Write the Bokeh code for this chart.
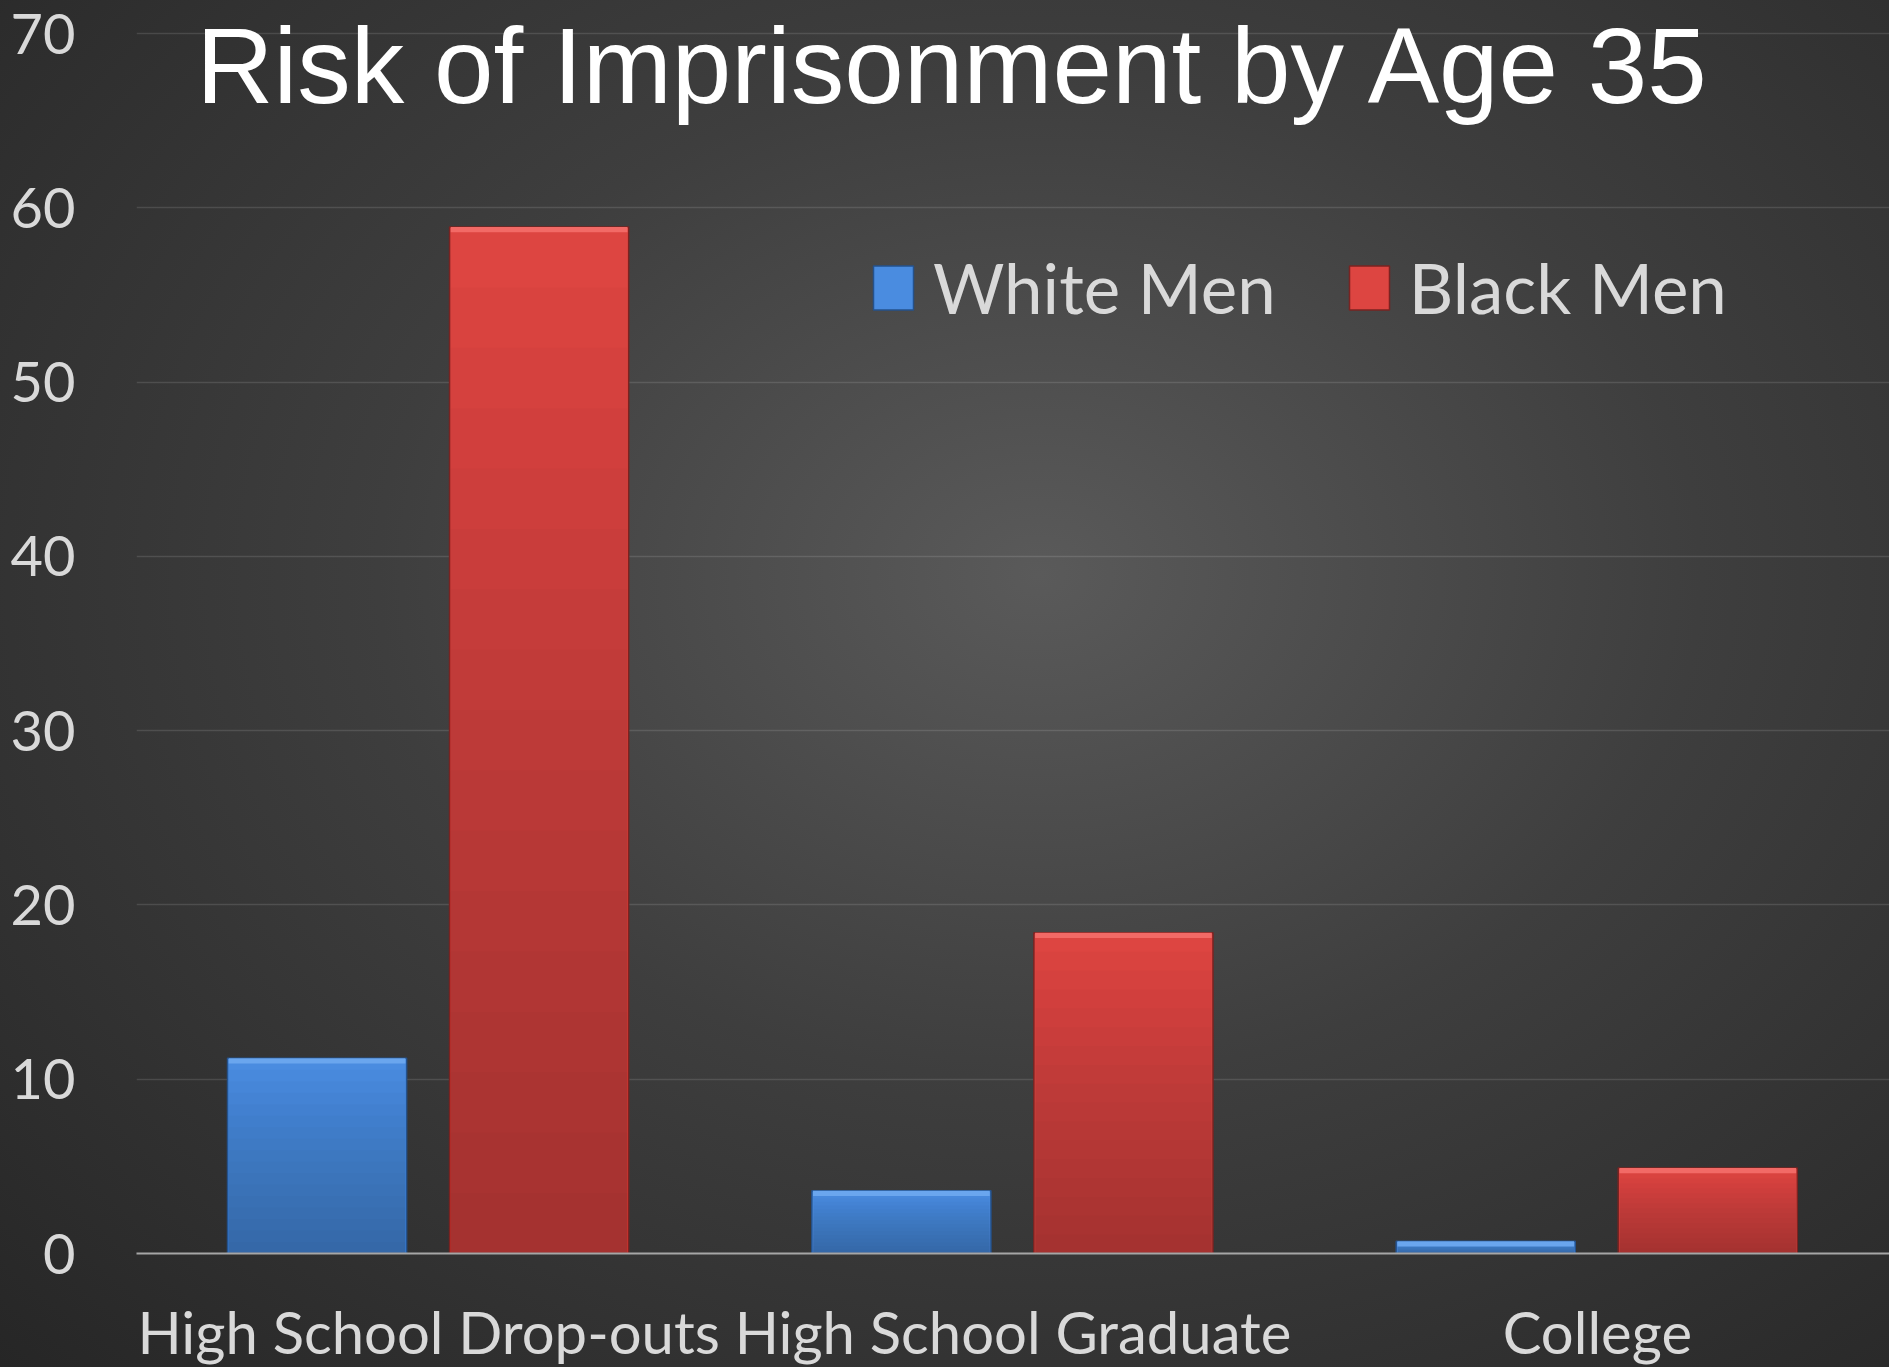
from bokeh.plotting import figure
from bokeh.models import (FactorRange, Range1d, Legend, LegendItem, Label,
                          ColumnDataSource, FixedTicker)
from bokeh.transform import dodge
from bokeh.embed import file_html
from bokeh.resources import INLINE

# ---- data ----
categories = ["High School Drop-outs", "High School Graduate", "College"]
white_men = [11.2, 3.6, 0.7]
black_men = [58.9, 18.4, 4.9]
series_names = ["White Men", "Black Men"]
y_ticks = [0, 10, 20, 30, 40, 50, 60, 70]
title_text = "Risk of Imprisonment by Age 35"

FONT = "Lato"
TICK_COLOR = "#d9d9d9"

src = ColumnDataSource(dict(cat=categories, white=white_men, black=black_men))

# frame reaches the top of the page so the title (which sits over the
# top gridline) is not clipped; axis max chosen so 70 lands where it does
p = figure(x_range=FactorRange(factors=categories, range_padding=0),
           y_range=Range1d(0, 71.9),
           frame_width=1753, frame_height=1253,
           output_backend="svg", toolbar_location=None,
           min_border_left=136, min_border_top=0,
           min_border_right=0, min_border_bottom=0)

p.background_fill_alpha = 0
p.border_fill_alpha = 0
p.outline_line_color = None
p.styles = {"background": "radial-gradient(ellipse farthest-corner at 55% 42%, #5a5a5a 0%, #3e3e3e 45%, #262626 100%)"}

BW = 0.3065
OFF_W = -0.191
OFF_B = 0.189

# main bars (top colour)
rw = p.vbar(x=dodge("cat", OFF_W, range=p.x_range), top="white", width=BW, source=src,
            fill_color="#4a8ce0", line_color="#25528c", line_width=1.5)
rb = p.vbar(x=dodge("cat", OFF_B, range=p.x_range), top="black", width=BW, source=src,
            fill_color="#dd4541", line_color="#7a2321", line_width=1.5)

# vertical shading (darker toward the base), derived from the values
N = 16
for k in range(1, N + 1):
    frac = 1 - k / (N + 1)
    for vals, off in ((white_men, OFF_W), (black_men, OFF_B)):
        s = ColumnDataSource(dict(cat=categories, top=[v * frac for v in vals]))
        p.vbar(x=dodge("cat", off, range=p.x_range), top="top", width=BW - 0.004, source=s,
               fill_color="black", fill_alpha=0.016, line_color=None)

# top bevel highlight
for vals, off, col in ((white_men, OFF_W, "#6aa6ee"), (black_men, OFF_B, "#f26a66")):
    s = ColumnDataSource(dict(cat=categories, top=vals, bottom=[v - 0.3 for v in vals]))
    p.vbar(x=dodge("cat", off, range=p.x_range), top="top", bottom="bottom",
           width=BW - 0.004, source=s, fill_color=col, line_color=None)

# axes
p.yaxis.ticker = FixedTicker(ticks=y_ticks)
p.yaxis.axis_line_color = None
p.yaxis.major_tick_line_color = None
p.yaxis.minor_tick_line_color = None
p.yaxis.major_label_text_font = FONT
p.yaxis.major_label_text_font_size = "56px"
p.yaxis.major_label_text_color = TICK_COLOR
p.yaxis.major_label_standoff = 55

p.xaxis.axis_line_color = "#a6a6a6"
p.xaxis.axis_line_width = 2
p.xaxis.major_tick_line_color = None
p.xaxis.minor_tick_line_color = None
p.xaxis.major_label_text_font = FONT
p.xaxis.major_label_text_font_size = "58px"
p.xaxis.major_label_text_color = TICK_COLOR
p.xaxis.major_label_standoff = 37

p.xgrid.grid_line_color = None
p.ygrid.grid_line_color = "#ffffff"
p.ygrid.grid_line_alpha = 0.12
p.ygrid.grid_line_width = 1.5

# legend
legend = Legend(items=[LegendItem(label=series_names[0], renderers=[rw]),
                       LegendItem(label=series_names[1], renderers=[rb])],
                orientation="horizontal", location=(732, 924),
                background_fill_alpha=0, border_line_alpha=0,
                padding=0, margin=0, glyph_width=50, glyph_height=55,
                label_standoff=15, spacing=68,
                label_text_font=FONT, label_text_font_size="69px",
                label_text_color=TICK_COLOR)
p.add_layout(legend)

# title drawn inside the frame, as in the original
p.add_layout(Label(x=818, y=1188, x_units="screen", y_units="screen", text=title_text,
                   text_align="center", text_baseline="alphabetic",
                   text_font="Liberation Sans", text_font_size="107px",
                   text_color="white"))

open("out.html", "w").write(file_html(p, INLINE))
